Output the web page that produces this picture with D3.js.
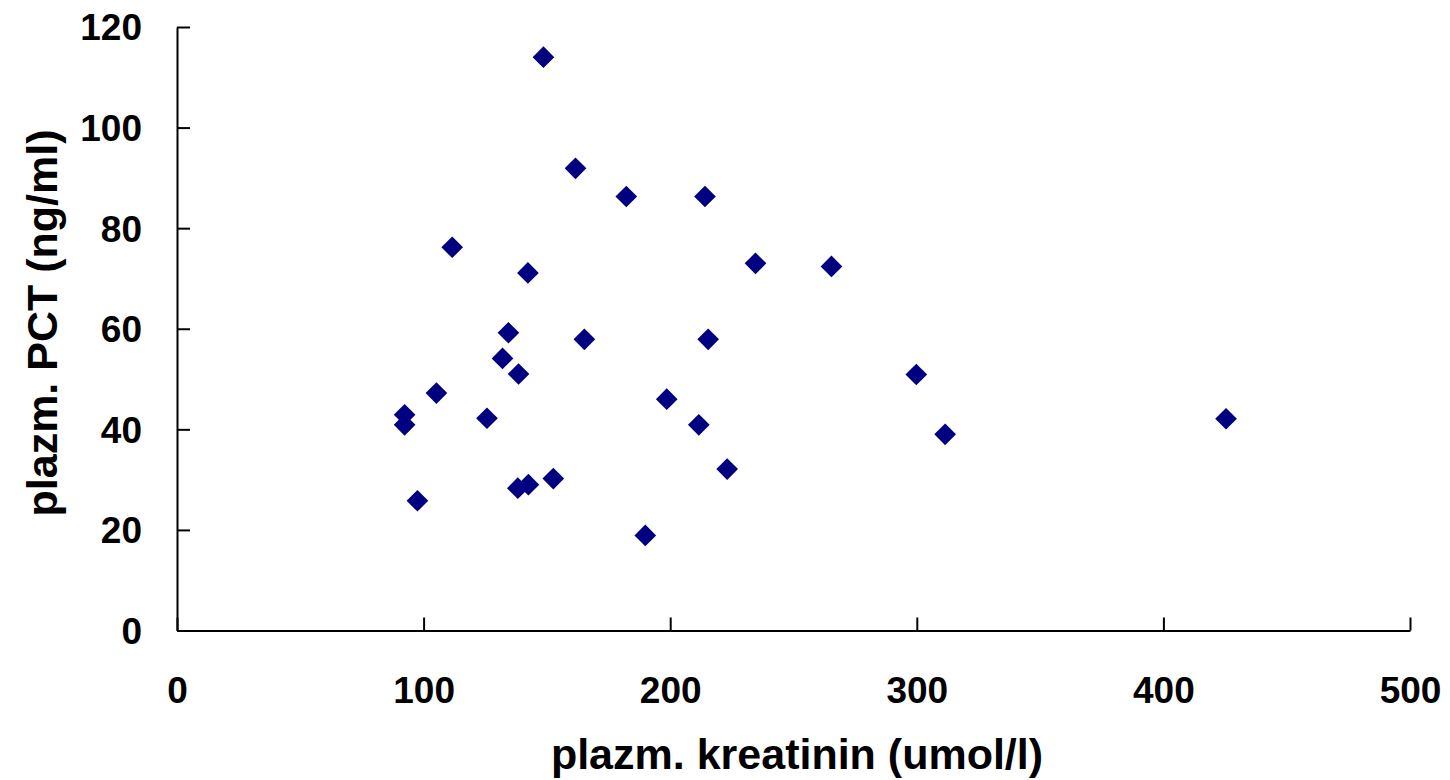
<!DOCTYPE html>
<html>
<head>
<meta charset="utf-8">
<script src="https://cdn.jsdelivr.net/npm/d3@7"></script>
<style>
  html, body { margin: 0; padding: 0; background: #fff; }
  svg { display: block; }
  text { font-family: "Liberation Sans", Arial, sans-serif; font-weight: bold; fill: #000; }
</style>
</head>
<body>
<svg id="chart" width="1450" height="780"></svg>
<script>
// Data: plasma creatinine (umol/l) vs plasma PCT (ng/ml)
const kreatinin = [148.6, 161.6, 182.2, 214.1, 111.6, 142.3, 234.6, 265.4, 134.4, 165.2,
                   215.4, 132.0, 138.5, 299.8, 105.2, 198.6, 92.3, 92.3, 125.7, 211.6,
                   311.5, 425.4, 223.1, 152.6, 138.2, 142.5, 97.5, 189.9];
const pct = [114.0, 91.9, 86.3, 86.3, 76.2, 71.1, 73.0, 72.4, 59.2, 57.9,
             57.9, 54.1, 51.0, 50.9, 47.2, 46.0, 42.9, 40.9, 42.2, 40.9,
             39.0, 42.1, 32.1, 30.2, 28.3, 29.0, 25.8, 18.9];
const xTicks = [0, 100, 200, 300, 400, 500];
const yTicks = [0, 20, 40, 60, 80, 100, 120];
const xTitle = "plazm. kreatinin (umol/l)";
const yTitle = "plazm. PCT (ng/ml)";

const svg = d3.select("#chart");
const mLeft = 177, mRight = 1410, mTop = 27, mBottom = 630.5;

const x = d3.scaleLinear().domain([0, 500]).range([mLeft, mRight]);
const y = d3.scaleLinear().domain([0, 120]).range([mBottom, mTop]);

const tickLen = 13;

// X axis
const xAxis = d3.axisBottom(x).tickValues(xTicks).tickSizeInner(-tickLen).tickSizeOuter(0).tickPadding(0);
const gx = svg.append("g").attr("transform", `translate(0,${mBottom})`).call(xAxis);
gx.select(".domain").attr("stroke", "#000").attr("stroke-width", 2);
gx.selectAll(".tick line").attr("stroke", "#000").attr("stroke-width", 2);
gx.selectAll(".tick text")
  .attr("y", 60).attr("dy", "0.35em")
  .style("font-size", "37px").style("font-family", "'Liberation Sans', Arial, sans-serif").style("font-weight", "bold").attr("fill", "#000");

// Y axis
const yAxis = d3.axisLeft(y).tickValues(yTicks).tickSizeInner(-tickLen).tickSizeOuter(0).tickPadding(0);
const gy = svg.append("g").attr("transform", `translate(${mLeft},0)`).call(yAxis);
gy.select(".domain").attr("stroke", "#000").attr("stroke-width", 2);
gy.selectAll(".tick line").attr("stroke", "#000").attr("stroke-width", 2);
gy.selectAll(".tick text")
  .attr("x", -35).attr("dy", "0.35em")
  .style("font-size", "37px").style("font-family", "'Liberation Sans', Arial, sans-serif").style("font-weight", "bold").attr("fill", "#000");

// Points
const pts = kreatinin.map((k, i) => ({ k, p: pct[i] }));
const diamond = d3.symbol().type(d3.symbolSquare).size(235);
svg.append("g").selectAll("path").data(pts).join("path")
  .attr("d", diamond)
  .attr("transform", d => `translate(${x(d.k)},${y(d.p)}) rotate(45)`)
  .attr("fill", "#000080");

// Titles
svg.append("text")
  .attr("x", 797).attr("y", 754).attr("dy", "0.35em")
  .attr("text-anchor", "middle").style("font-size", "43px")
  .text(xTitle);

svg.append("text")
  .attr("transform", `translate(42,323) rotate(-90)`)
  .attr("dy", "0.35em")
  .attr("text-anchor", "middle").style("font-size", "43px")
  .text(yTitle);
</script>
</body>
</html>
